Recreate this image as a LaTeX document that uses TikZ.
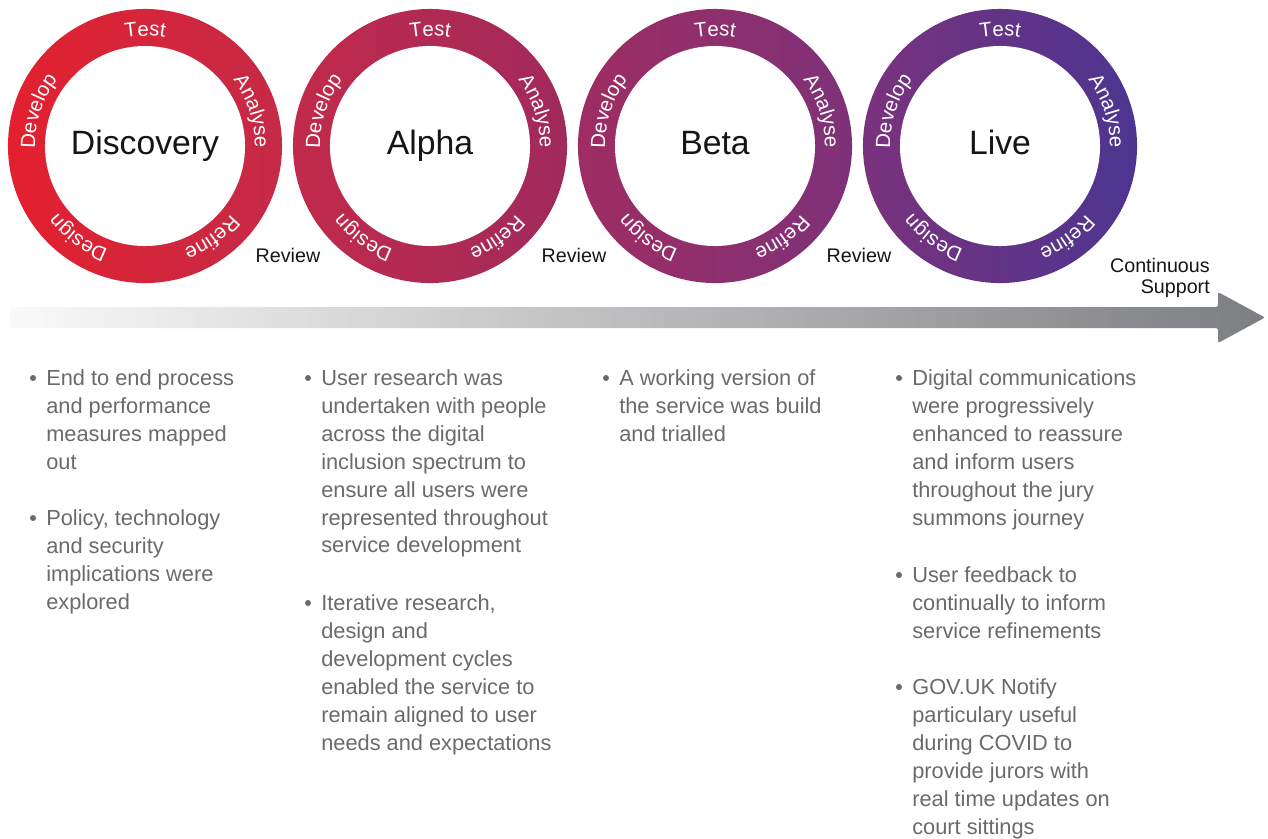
\documentclass[tikz,border=0pt]{standalone}
\usepackage{fontspec}
\setmainfont{Liberation Sans}
\usetikzlibrary{positioning,calc,decorations.text}
\definecolor{ink}{HTML}{151515}
\definecolor{muted}{HTML}{6A6A6A}
\definecolor{track}{HTML}{7D7E81}
\definecolor{discL}{HTML}{E3202E}
\definecolor{discR}{HTML}{C52A47}
\definecolor{alphaL}{HTML}{C22A4A}
\definecolor{alphaR}{HTML}{A02A5C}
\definecolor{betaL}{HTML}{9E2D62}
\definecolor{betaR}{HTML}{7E3179}
\definecolor{liveL}{HTML}{7A327D}
\definecolor{liveR}{HTML}{4C3590}
\newcommand\ringlbl{\fontsize{14.5}{16}\selectfont}
\tikzset{
  ring/.style 2 args={circle,minimum size=6.85cm,inner sep=0pt,outer sep=0pt,left color=#1,right color=#2},
  hole/.style={circle,fill=white,minimum size=5cm,inner sep=0pt,font=\fontsize{24}{28}\selectfont,text=ink,text height=1.22em,text depth=0pt},
  review/.style={inner sep=0pt,font=\fontsize{14}{14.4}\selectfont,text=ink,align=right},
  dot/.style={circle,fill=muted,minimum size=0.15cm,inner sep=0pt},
  point/.style={anchor=north west,inner sep=0pt,align=left,text=muted,font=\fontsize{15.5}{19.9}\selectfont}
}

\begin{document}
\begin{tikzpicture}[x=0.025cm,y=0.025cm]
  \useasboundingbox (0,0) rectangle (1268,-838);

  % timeline arrow
  \coordinate (tl0) at (10,-317.5);
  \coordinate (tl1) at (1265,-317.5);
  \shade[left color=white!96!track,right color=track,rounded corners=1.5pt]
    (10,-307) -- (1218,-307) -- (1218,-292) -- (tl1) -- (1218,-343) -- (1218,-328) -- (10,-328) -- cycle;

  % stage rings
  \foreach \cx/\nm/\lc/\rc/\stage in {145/disc/discL/discR/Discovery,430/alpha/alphaL/alphaR/Alpha,715/beta/betaL/betaR/Beta,1000/live/liveL/liveR/Live}{
    \node[ring={\lc}{\rc}] (\nm ring) at (\cx,-146) {};
    \node[hole] (\nm) at (\nm ring) {\stage};
    \foreach \ang/\word in {90/Test,18/Analyse,-54/Refine,-126/Design,162/Develop}{
      \ringlbl
      \path[decorate,decoration={text along path,text/.expanded=\word,text align=center,text color=white}]
        ($(\nm)+(\ang+40:110)$) arc[start angle=\ang+40,end angle=\ang-40,radius=110];
    }
  }

  \node[review] (rev1) at (288,-255) {Review};
  \node[review] (rev2) at (574,-255) {Review};
  \node[review] (rev3) at (859,-255) {Review};
  \node[review,anchor=east] (cont) at (1210,-278) {Continuous\\Support};

  % discovery
  \node[point] (d1) at (46,-369) {End to end process\\and performance\\measures mapped\\out};
  \node[point] (d2) at (46,-509) {Policy, technology\\and security\\implications were\\explored};
  % alpha
  \node[point] (a1) at (321,-369) {User research was\\undertaken with people\\across the digital\\inclusion spectrum to\\ensure all users were\\represented throughout\\service development};
  \node[point] (a2) at (321,-594) {Iterative research,\\design and\\development cycles\\enabled the service to\\remain aligned to user\\needs and expectations};
  % beta
  \node[point] (b1) at (619,-369) {A working version of\\the service was build\\and trialled};
  % live
  \node[point] (l1) at (912,-369) {Digital communications\\were progressively\\enhanced to reassure\\and inform users\\throughout the jury\\summons journey};
  \node[point] (l2) at (912,-566) {User feedback to\\continually to inform\\service refinements};
  \node[point] (l3) at (912,-678) {GOV.UK Notify\\particulary useful\\during COVID to\\provide jurors with\\real time updates on\\court sittings};

  \foreach \p in {d1,d2,a1,a2,b1,l1,l2,l3}
    \node[dot] (\p dot) at ($(\p.north west)+(-13,-9)$) {};
\end{tikzpicture}
\end{document}
